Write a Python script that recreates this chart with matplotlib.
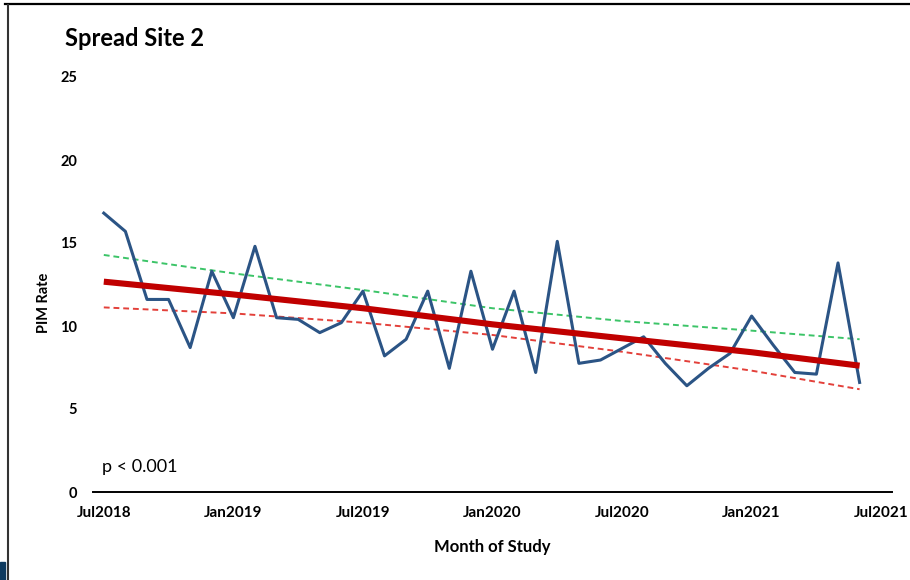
import numpy as np
import matplotlib.pyplot as plt
from matplotlib.lines import Line2D
from matplotlib.patches import Rectangle

# monthly PIM rate, Jul 2018 - Jun 2021
months = np.arange(36)
pim_rate = [16.8, 15.7, 11.6, 11.6, 8.7, 13.3, 10.5, 14.8, 10.5, 10.4, 9.6, 10.2,
            12.1, 8.2, 9.2, 12.1, 7.45, 13.3, 8.6, 12.1, 7.2, 15.1, 7.75, 7.95,
            8.65, 9.35, 7.75, 6.4, 7.45, 8.35, 10.6, 8.85, 7.2, 7.1, 13.8, 6.6]

# fitted trend and its confidence band, read at six-month steps
fit_months = [0, 6, 12, 18, 24, 30, 35]
fit_rate = [12.67, 11.9, 11.07, 10.1, 9.26, 8.42, 7.61]
upper_ci = [14.28, 13.17, 12.17, 11.07, 10.3, 9.72, 9.2]
lower_ci = [11.12, 10.76, 10.2, 9.46, 8.45, 7.31, 6.19]

tick_months = [0, 6, 12, 18, 24, 30, 36]
tick_labels = ['Jul2018', 'Jan2019', 'Jul2019', 'Jan2020', 'Jul2020', 'Jan2021', 'Jul2021']
y_ticks = [0, 5, 10, 15, 20, 25]

plt.rcParams['font.family'] = ['Lato', 'DejaVu Sans']

W, H = 910, 580
fig = plt.figure(figsize=(W / 100, H / 100), dpi=100)
ax = fig.add_axes([93 / W, 1 - 492 / H, (892 - 93) / W, (492 - 77) / H])

ax.plot(months, pim_rate, color='#2B5485', lw=2.2, zorder=3)
ax.plot(fit_months, upper_ci, color='#3CC468', lw=1.4, ls=(0, (3, 2)), zorder=2)
ax.plot(fit_months, lower_ci, color='#E3403A', lw=1.4, ls=(0, (3, 2)), zorder=2)
ax.plot(fit_months, fit_rate, color='#C00000', lw=4.4, zorder=4,
        solid_capstyle='butt')

ax.set_xlim(-0.5, 36.5)
ax.set_ylim(0, 25)
ax.set_xticks(tick_months, tick_labels)
ax.set_yticks(y_ticks)
for s in ['top', 'right', 'left']:
    ax.spines[s].set_visible(False)
ax.spines['bottom'].set_linewidth(1.4)
ax.tick_params(axis='x', length=0, pad=10, labelsize=11)
ax.tick_params(axis='y', length=0, pad=11.5, labelsize=10.5)
for lab in ax.get_xticklabels() + ax.get_yticklabels():
    lab.set_fontweight('bold')

fig.text(65 / W, 1 - 39 / H, 'Spread Site 2', fontsize=17, fontweight='bold',
         ha='left', va='center')
fig.text(44 / W, 1 - 303 / H, 'PIM Rate', rotation=90, fontsize=10.5,
         fontweight='bold', ha='center', va='center')
fig.text(492 / W, 1 - 547 / H, 'Month of Study', fontsize=12, fontweight='bold',
         ha='center', va='center')
fig.text(102 / W, 1 - 467 / H, 'p < 0.001', fontsize=13, ha='left', va='center')

# frame pieces around the chart
fig.add_artist(Line2D([5 / W, 1], [1 - 3.7 / H] * 2, color='black', lw=1.6,
                      transform=fig.transFigure))
fig.add_artist(Line2D([8.3 / W] * 2, [0, 1 - 5 / H], color='#333333', lw=1.5,
                      transform=fig.transFigure))
fig.add_artist(Rectangle((0, 0), 5 / W, 18 / H, color='#0E3A5F',
                         transform=fig.transFigure))

fig.savefig('out.png', dpi=100)
